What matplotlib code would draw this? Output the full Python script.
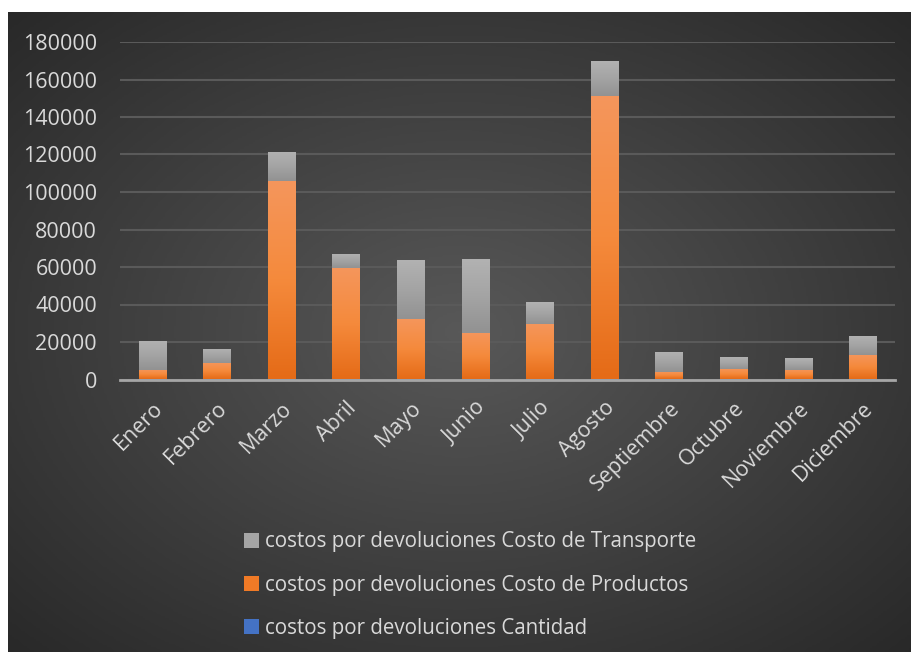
import numpy as np
import matplotlib.pyplot as plt
from matplotlib.colors import LinearSegmentedColormap

meses = ['Enero', 'Febrero', 'Marzo', 'Abril', 'Mayo', 'Junio', 'Julio',
         'Agosto', 'Septiembre', 'Octubre', 'Noviembre', 'Diciembre']
cantidad = [60, 50, 120, 90, 80, 70, 60, 150, 40, 40, 40, 50]
costo_productos = [5000, 8800, 105800, 59400, 32200, 24800, 29600,
                   151100, 4000, 5600, 5100, 13000]
costo_transporte = [15500, 7500, 15500, 7500, 31500, 39400, 11700,
                    18700, 10700, 6400, 6400, 10200]
series = ['costos por devoluciones Cantidad',
          'costos por devoluciones Costo de Productos',
          'costos por devoluciones Costo de Transporte']

plt.rcParams['font.family'] = ['Open Sans', 'DejaVu Sans']
txt = '#D9D9D9'

fig = plt.figure(figsize=(9.11, 6.52), dpi=100, facecolor='white')

# dark radial background panel
bg = fig.add_axes([8 / 911, 0, 903 / 911, 640 / 652], zorder=0)
yy, xx = np.mgrid[0:1:300j, 0:1:420j]
r = np.sqrt(((xx - 0.5) / 0.75) ** 2 + ((yy - 0.5) / 0.75) ** 2)
bg_cmap = LinearSegmentedColormap.from_list('bg', ['#585858', '#262626'])
bg.imshow(np.clip(r, 0, 1), cmap=bg_cmap, vmin=0, vmax=1, aspect='auto',
          extent=[0, 1, 0, 1])
bg.set_axis_off()

ax = fig.add_axes([120 / 911, 1 - 379.5 / 652, 775 / 911, 337.5 / 652], zorder=1)
ax.patch.set_alpha(0)
x = np.arange(len(meses))
w = 0.42

b0 = ax.bar(x, cantidad, w, color='#4472C4', label=series[0], zorder=3)
b1 = ax.bar(x, costo_productos, w, bottom=cantidad, color='#F07A26',
            label=series[1], zorder=3)
bottom2 = np.array(cantidad) + np.array(costo_productos)
b2 = ax.bar(x, costo_transporte, w, bottom=bottom2, color='#A5A5A5',
            label=series[2], zorder=3)

# vertical gradients inside bars
grad = np.linspace(0, 1, 100).reshape(-1, 1)
orange = LinearSegmentedColormap.from_list('o', ['#E56B17', '#F58A3C', '#F4965C'])
gray = LinearSegmentedColormap.from_list('g', ['#929292', '#A4A4A4', '#B2B2B2'])
for bars, cmap in [(b1, orange), (b2, gray)]:
    for p in bars:
        x0, y0 = p.get_x(), p.get_y()
        im = ax.imshow(grad, cmap=cmap, aspect='auto', origin='lower',
                       extent=[x0, x0 + p.get_width(), y0, y0 + p.get_height()],
                       zorder=3.5)
        im.set_clip_path(p)

ax.set_xlim(-0.5, 11.5)
ax.set_ylim(0, 180000)
ax.set_yticks(np.arange(0, 180001, 20000))
ax.grid(axis='y', color='#5A5A5A', linewidth=1.5, zorder=1)
for s in ['top', 'right', 'left']:
    ax.spines[s].set_visible(False)
ax.spines['bottom'].set_color('#A6A6A6')
ax.spines['bottom'].set_linewidth(2)
ax.spines['bottom'].set_zorder(4)
ax.tick_params(length=0, colors=txt, labelsize=15.5)
ax.tick_params(axis='y', pad=16.5)
ax.set_xticks(x)
ax.set_xticklabels(meses, rotation=45, ha='right', rotation_mode='anchor')
ax.tick_params(axis='x', pad=13)

handles = [b2, b1, b0]
leg = fig.legend(handles, [series[2], series[1], series[0]],
                 loc='upper left', bbox_to_anchor=(225 / 911, 1 - 513 / 652),
                 frameon=False, labelcolor=txt, fontsize=14.8,
                 handlelength=0.75, handleheight=0.75, handletextpad=0.3,
                 labelspacing=1.08)

fig.savefig('out.png', dpi=100, facecolor='white')
